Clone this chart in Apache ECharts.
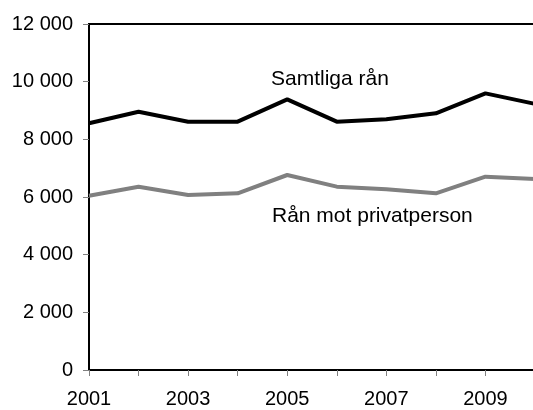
<!DOCTYPE html>
<html>
<head>
<meta charset="utf-8">
<script src="https://cdn.jsdelivr.net/npm/echarts@6/dist/echarts.min.js"></script>
<style>
html,body{margin:0;padding:0;overflow:hidden;background:#fff;}
#chart{width:540px;height:410px;}
</style>
</head>
<body>
<div id="chart"></div>
<script>
const years = ['2001','2002','2003','2004','2005','2006','2007','2008','2009','2010'];
const samtligaRan = [8556, 8958, 8612, 8612, 9387, 8612, 8693, 8902, 9595, 9230];
const ranMotPrivatperson = [6046, 6358, 6069, 6127, 6763, 6358, 6265, 6127, 6705, 6624];
const seriesNames = ['Samtliga rån', 'Rån mot privatperson'];
const yTicks = {min: 0, max: 12000, interval: 2000};

const FONT = '"Liberation Sans", Arial, sans-serif';
const chart = echarts.init(document.getElementById('chart'));
function fmt(v){ return String(v).replace(/\B(?=(\d{3})+(?!\d))/g, ' '); }

chart.setOption({
  animation: false,
  backgroundColor: '#fff',
  grid: {left: 89, right: 5, top: 24, bottom: 40, show: true, borderColor: '#000', borderWidth: 2, backgroundColor: 'transparent'},
  xAxis: {
    type: 'category',
    data: years,
    boundaryGap: false,
    axisLine: {lineStyle: {color: '#000', width: 2}},
    axisTick: {show: true, interval: 0, length: 6, lineStyle: {color: '#808080', width: 1}},
    axisLabel: {interval: 1, color: '#000', fontSize: 20, fontFamily: FONT, margin: 19}
  },
  yAxis: {
    type: 'value',
    min: yTicks.min, max: yTicks.max, interval: yTicks.interval,
    axisLine: {show: true, lineStyle: {color: '#000', width: 2}},
    axisTick: {show: true, length: 6, lineStyle: {color: '#808080', width: 1}},
    splitLine: {show: false},
    axisLabel: {color: '#000', fontSize: 20, fontFamily: FONT, margin: 16, formatter: fmt}
  },
  series: [
    {name: seriesNames[0], type: 'line', data: samtligaRan, symbol: 'none', lineStyle: {color: '#000', width: 4}, z: 3},
    {name: seriesNames[1], type: 'line', data: ranMotPrivatperson, symbol: 'none', lineStyle: {color: '#808080', width: 4}, z: 2}
  ],
  graphic: [
    {type: 'text', left: 271, top: 69, style: {text: seriesNames[0], fill: '#000', font: '21px ' + FONT}},
    {type: 'text', left: 272, top: 206, style: {text: seriesNames[1], fill: '#000', font: '21px ' + FONT}}
  ]
});
</script>
</body>
</html>
